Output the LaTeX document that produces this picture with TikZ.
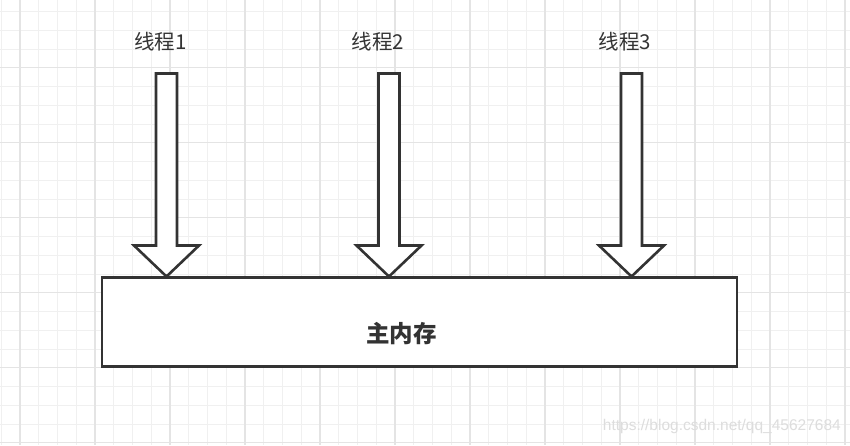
\documentclass[tikz,border=0pt]{standalone}
\usepackage{fontspec}
\newfontfamily\cjk{Noto Sans CJK SC}
\newfontfamily\wmfont{Liberation Sans}
\definecolor{inkc}{HTML}{333333}
\definecolor{minorc}{HTML}{F0F0F0}
\definecolor{majorc}{HTML}{E4E4E4}
\definecolor{wmc}{HTML}{DDDDDD}
\tikzset{
  minorgrid/.style={draw=minorc, line width=0.9pt},
  majorgrid/.style={draw=majorc, line width=1.1pt},
  shapeline/.style={draw=inkc, line width=2.6pt, fill=white, line join=miter},
  membox/.style={shapeline, minimum width=635pt, minimum height=89pt, inner sep=0pt},
  memtext/.style={font=\cjk\bfseries\fontsize{23.5}{26}\selectfont, text=inkc, inner sep=0pt},
  threadlabel/.style={font=\cjk\fontsize{20.5}{23}\selectfont, text=inkc, inner sep=0pt},
  blockarrow/.pic={
    \draw[shapeline] (-10.5,-203) -- (10.5,-203) -- (10.5,-31) -- (32.5,-31) -- (0,0)
      -- (-32.5,-31) -- (-10.5,-31) -- cycle;
  }
}
\begin{document}
\begin{tikzpicture}[x=1pt,y=-1pt]
\useasboundingbox (0,0) rectangle (850,445);
\clip (0,0) rectangle (850,445);
\fill[white] (0,0) rectangle (850,445);
% grid
\foreach \i in {-1,...,44} \draw[minorgrid] ({20+18.75*\i},0) -- ({20+18.75*\i},445);
\foreach \j in {-4,...,21} \draw[minorgrid] (0,{67.7+18.75*\j}) -- (850,{67.7+18.75*\j});
\foreach \i in {0,...,11} \draw[majorgrid] ({20+75*\i},0) -- ({20+75*\i},445);
\foreach \j in {-1,...,5} \draw[majorgrid] (0,{67.7+75*\j}) -- (850,{67.7+75*\j});
% main memory
\node[membox] (mem) at (419.5,321.7) {};
\node[memtext] (memlabel) at (401.5,333.5) {主内存};
% arrows
\coordinate (tip1) at (166.5,276.5);
\coordinate (tip2) at (389,276.5);
\coordinate (tip3) at (631.5,276.5);
\pic at (tip1) {blockarrow};
\pic at (tip2) {blockarrow};
\pic at (tip3) {blockarrow};
% labels
\node[threadlabel] (t1) at (160.5,42) {线程1};
\node[threadlabel] (t2) at (378,42) {线程2};
\node[threadlabel] (t3) at (625,42) {线程3};
% watermark
\node[font=\wmfont\fontsize{15.5}{18}\selectfont, text=wmc, anchor=east, inner sep=0pt] (wm) at (841,426) {https://blog.csdn.net/qq\_45627684};
\end{tikzpicture}
\end{document}
